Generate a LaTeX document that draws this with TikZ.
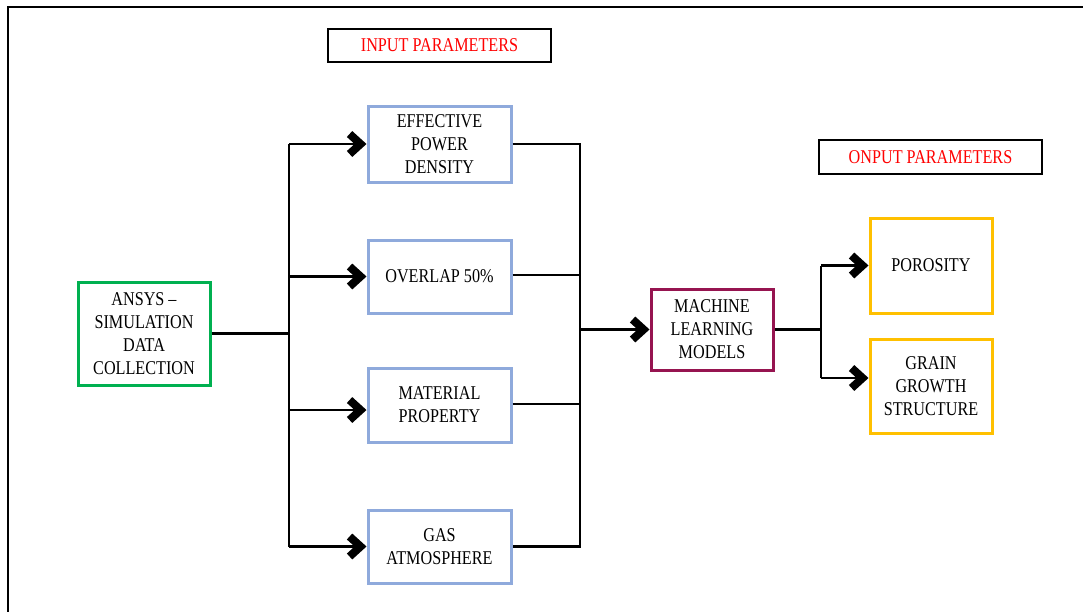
\documentclass[tikz,border=0pt]{standalone}
\usepackage{fontspec}
\setmainfont{Liberation Serif}[FakeStretch=0.83]
\usetikzlibrary{arrows.meta,calc}
\definecolor{boxblue}{RGB}{143,170,220}
\definecolor{boxgreen}{RGB}{0,176,80}
\definecolor{boxberry}{RGB}{150,20,80}
\definecolor{boxgold}{RGB}{255,192,0}
\tikzset{
  every node/.style={font=\fontsize{19.5}{23}\selectfont, align=center, inner sep=0pt},
  stagebox/.style={draw, line width=3pt, fill=white},
  inbox/.style={stagebox, draw=boxblue, minimum width=143pt},
  outbox/.style={stagebox, draw=boxgold, minimum width=122pt},
  headbox/.style={draw=black, line width=2.2pt, minimum width=223pt, text=red},
  link/.style={line width=2.3pt, draw=black},
  arr/.style={link, -{Straight Barb[length=11pt,width=20pt,line width=8pt]}}
}
\begin{document}
\begin{tikzpicture}[x=1pt,y=-1pt]
\useasboundingbox (0,0) rectangle (1083,611);
\begin{scope}
\clip (0,0) rectangle (1083,611);
\draw[line width=2.6pt] (8,7) rectangle (1110,640);
\end{scope}

% headings
\node[headbox, minimum height=33pt] (inhead) at (439.5,45.5) {INPUT PARAMETERS};
\node[headbox, minimum height=34pt] (outhead) at (930.5,157) {ONPUT PARAMETERS};

% source
\node[stagebox, draw=boxgreen, minimum width=132pt, minimum height=103pt] (ansys) at (144,333.5)
  {ANSYS --\\SIMULATION\\DATA\\COLLECTION};

% input parameters
\node[inbox, minimum height=76pt] (epd) at (439.5,144) {EFFECTIVE\\POWER\\DENSITY};
\node[inbox, minimum height=73pt] (ovl) at (439.5,276.5) {OVERLAP 50\%};
\node[inbox, minimum height=74pt] (mat) at (439.5,405) {MATERIAL\\PROPERTY};
\node[inbox, minimum height=73pt] (gas) at (439.5,546.5) {GAS\\ATMOSPHERE};

% model
\node[stagebox, draw=boxberry, minimum width=122pt, minimum height=81pt] (ml) at (712,329.5)
  {MACHINE\\LEARNING\\MODELS};

% outputs
\node[outbox, minimum height=95pt] (por) at (931,265.5) {POROSITY};
\node[outbox, minimum height=94pt] (grain) at (931,386) {GRAIN\\GROWTH\\STRUCTURE};

% split from the source
\coordinate (jl) at (289,333.5);
\draw[link, line width=3pt] (ansys.east) -- (jl);
\draw[link] (jl |- epd.west) -- (jl |- gas.west);
\draw[arr] (jl |- epd.west) -- (epd.west);
\draw[arr] (jl |- ovl.west) -- (ovl.west);
\draw[arr] ($(jl |- mat.west)+(0,5)$) -- ($(mat.west)+(0,5)$);
\draw[arr] (jl |- gas.west) -- (gas.west);

% merge into the model
\coordinate (jr) at (580,329.5);
\draw[link] (epd.east) -- (epd.east -| jr) -- (gas.east -| jr) -- (gas.east);
\draw[link] ($(ovl.east)+(0,-1.5)$) -- ($(ovl.east -| jr)+(0,-1.5)$);
\draw[link] ($(mat.east)+(0,-1)$) -- ($(mat.east -| jr)+(0,-1)$);
\draw[arr] (jr) -- (ml.west);

% split to the outputs
\coordinate (jo) at (821,329.5);
\draw[link] (ml.east) -- (jo);
\draw[link] (jo |- por.west) -- ($(jo |- grain.west)+(0,-8)$);
\draw[arr] (jo |- por.west) -- (por.west);
\draw[arr] ($(jo |- grain.west)+(0,-8)$) -- ($(grain.west)+(0,-8)$);
\end{tikzpicture}
\end{document}
